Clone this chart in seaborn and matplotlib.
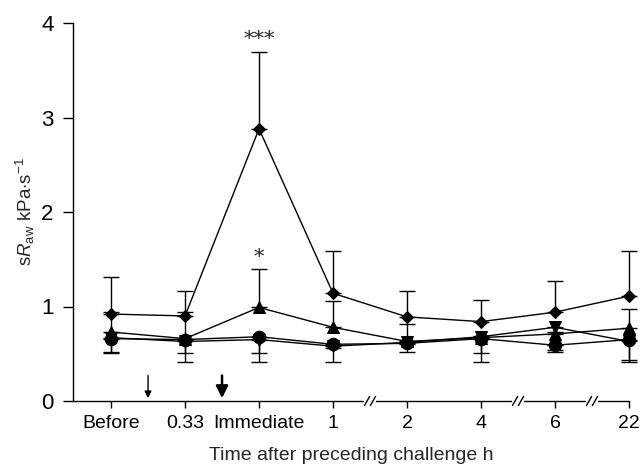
import numpy as np
import pandas as pd
import matplotlib
matplotlib.use("Agg")
import matplotlib.pyplot as plt
import seaborn as sns

categories = ["Before", "0.33", "Immediate", "1", "2", "4", "6", "22"]

diamond_mean = [0.92, 0.90, 2.88, 1.14, 0.89, 0.84, 0.94, 1.11]
diamond_err_up = [0.39, 0.26, 0.81, 0.45, 0.27, 0.23, 0.33, 0.48]

tri_up_mean = [0.73, 0.66, 0.99, 0.78, 0.63, 0.67, 0.71, 0.77]
tri_up_err_up = [0.21, 0.28, 0.41, 0.28, 0.19, 0.02, 0.02, 0.20]

circle_mean = [0.66, 0.65, 0.68, 0.60, 0.61, 0.66, 0.59, 0.65]
circle_err_down = [0.15, 0.14, 0.17, 0.19, 0.09, 0.15, 0.05, 0.22]

tri_down_mean = [0.67, 0.63, 0.65, 0.58, 0.62, 0.68, 0.78, 0.63]
tri_down_err_down = [0.15, 0.22, 0.24, 0.02, 0.02, 0.27, 0.26, 0.22]

significance = {"Immediate": ["***", "*"]}

sns.set_theme(style="ticks")
plt.rcParams["font.family"] = ["Liberation Sans", "DejaVu Sans"]
plt.rcParams["mathtext.fontset"] = "custom"
plt.rcParams["mathtext.rm"] = "Liberation Sans"
plt.rcParams["mathtext.it"] = "Liberation Sans:italic"

fig = plt.figure(figsize=(6.42, 4.65), dpi=100)
ax = fig.add_axes([73 / 642, 1 - 401 / 465, (629 - 73) / 642, (401 - 23) / 465])

pos = np.arange(len(categories))
series = {
    "diamond": (diamond_mean, "D", 6),
    "tri_up": (tri_up_mean, "^", 8),
    "circle": (circle_mean, "o", 9),
    "tri_down": (tri_down_mean, "v", 8),
}

rows = []
for name, (vals, m, s) in series.items():
    for p, v in zip(pos, vals):
        rows.append({"x": p, "y": v, "series": name})
df = pd.DataFrame(rows)

for name, (vals, m, s) in series.items():
    sub = df[df["series"] == name]
    sns.lineplot(data=sub, x="x", y="y", color="black", marker=m, markersize=s,
                 markeredgecolor="black", linewidth=1.0, ax=ax, zorder=3, clip_on=False)

ekw = dict(fmt="none", ecolor="black", elinewidth=1.0, capsize=5.5, capthick=1.0, zorder=2,
           clip_on=False)
ax.errorbar(pos, diamond_mean, yerr=[np.zeros(8), diamond_err_up], **ekw)
ax.errorbar(pos, tri_up_mean, yerr=[np.zeros(8), tri_up_err_up], **ekw)
ax.errorbar(pos, circle_mean, yerr=[circle_err_down, np.zeros(8)], **ekw)
ax.errorbar(pos, tri_down_mean, yerr=[tri_down_err_down, np.zeros(8)], **ekw)

imm = categories.index("Immediate")
ax.text(imm, diamond_mean[imm] + diamond_err_up[imm] + 0.03, significance["Immediate"][0],
        ha="center", va="bottom", fontsize=15, fontfamily="DejaVu Serif")
ax.text(imm, tri_up_mean[imm] + tri_up_err_up[imm] + 0.02, significance["Immediate"][1],
        ha="center", va="bottom", fontsize=15, fontfamily="DejaVu Serif")

# challenge arrows
ax.annotate("", xy=(0.5, 0.03), xytext=(0.5, 0.27),
            arrowprops=dict(arrowstyle="-|>", color="black", lw=1.0,
                            mutation_scale=10, shrinkA=0, shrinkB=0))
ax.annotate("", xy=(1.5, 0.03), xytext=(1.5, 0.27),
            arrowprops=dict(arrowstyle="-|>", color="black", lw=1.8,
                            mutation_scale=18, shrinkA=0, shrinkB=0))

ax.set_xlim(-0.514, 7)
ax.set_ylim(0, 4)
ax.set_xticks(pos)
ax.set_xticklabels(categories)
ax.set_yticks([0, 1, 2, 3, 4])
ax.tick_params(axis="x", labelsize=14, colors="black", width=1.0, length=5, pad=5)
ax.tick_params(axis="y", labelsize=16, colors="black", width=1.0, length=7, pad=7)
for sp in ["top", "right"]:
    ax.spines[sp].set_visible(False)
for sp in ["left", "bottom"]:
    ax.spines[sp].set_color("black")
    ax.spines[sp].set_linewidth(1.0)

# axis breaks
for bx in [3.5, 5.5, 6.5]:
    trans = ax.get_xaxis_transform()
    ax.plot([bx - 0.06, bx + 0.06], [0, 0], color="white", lw=3, transform=trans,
            clip_on=False, zorder=5)
    for off in [-0.04, 0.04]:
        ax.plot([bx + off - 0.035, bx + off + 0.035], [-0.012, 0.012], color="black",
                lw=1.0, transform=trans, clip_on=False, zorder=6)

ax.set_xlabel("Time after preceding challenge h", fontsize=14, labelpad=11)
ax.set_ylabel(r"s$R_{\mathrm{aw}}$ kPa$\cdot$s$^{\mathrm{-1}}$", fontsize=13.5, labelpad=3)

fig.savefig("out.png", dpi=100)
